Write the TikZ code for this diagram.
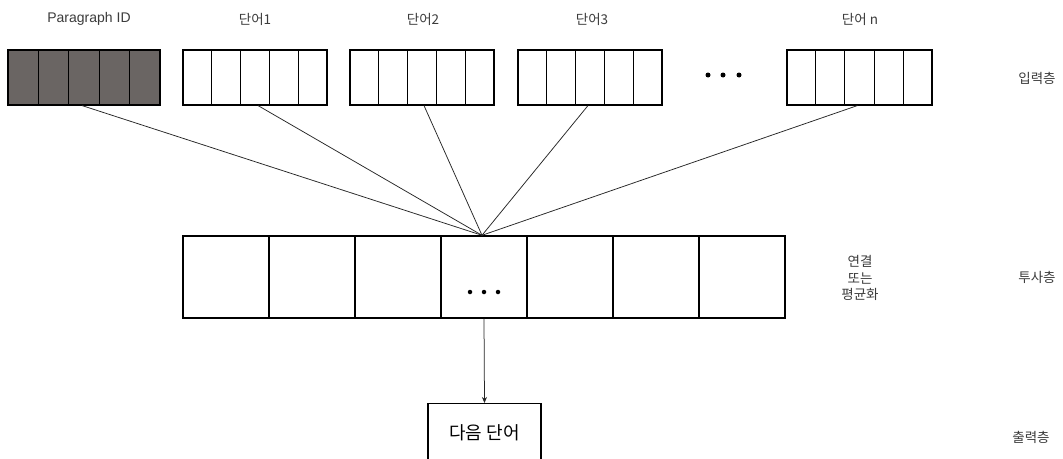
\documentclass[tikz,border=0pt]{standalone}
\usepackage{fontspec}
\setmainfont{Liberation Sans}
\newfontfamily\kr{Noto Sans CJK KR}
\usetikzlibrary{arrows.meta,calc}
\definecolor{idgray}{RGB}{106,101,99}
\definecolor{labgray}{RGB}{60,60,60}
\tikzset{
  vecbox/.style={draw=black, line width=1.1pt, minimum height=55pt, inner sep=0pt},
  cellbox/.style={draw=black, line width=1.4pt, minimum width=86pt, minimum height=82pt, inner sep=0pt},
  lab/.style={text=labgray, font=\kr\fontsize{13.5}{15}\selectfont, inner sep=0pt},
  conn/.style={draw=black!85, line width=0.75pt},
  dot/.style={circle, fill=black, inner sep=0pt, minimum size=5pt},
}
\begin{document}
\begin{tikzpicture}[x=1pt,y=-1pt]
\clip (0,0) rectangle (1063,458);
\fill[white] (0,0) rectangle (1063,458);
% input vectors
\node[vecbox, fill=idgray, minimum width=152pt] (p) at (84,77.5) {};
\node[vecbox, minimum width=144pt] (w1) at (255,77.5) {};
\node[vecbox, minimum width=144pt] (w2) at (422,77.5) {};
\node[vecbox, minimum width=144pt] (w3) at (590,77.5) {};
\node[vecbox, minimum width=145pt] (wn) at (859.5,77.5) {};
\foreach \b in {p,w1,w2,w3,wn}{
  \foreach \i in {1,2,3,4}{
    \draw[line width=1.1pt] ($(\b.north west)!\i/5!(\b.north east)$) -- ($(\b.south west)!\i/5!(\b.south east)$);
  }
}
% labels
\node[lab, font=\fontsize{14}{15}\selectfont] (lp) at (89,19) {Paragraph ID};
\node[lab] (l1) at (255,19) {단어1};
\node[lab] (l2) at (423,19) {단어2};
\node[lab] (l3) at (592,19) {단어3};
\node[lab] (ln) at (860,19) {단어 n};
\node[lab] (in) at (1037,78) {입력층};
% ellipsis dots top
\node[dot] (d1) at (708,75) {};
\node[dot] (d2) at (723,75) {};
\node[dot] (d3) at (739,75) {};
% projection cells
\foreach \i/\x in {1/226,2/312,3/398,4/484,5/570,6/656,7/742}{
  \node[cellbox] (c\i) at (\x,277) {};
}
\node[dot, minimum size=4.5pt] (m1) at (470,292) {};
\node[dot, minimum size=4.5pt] (m2) at (484,292) {};
\node[dot, minimum size=4.5pt] (m3) at (498,292) {};
\coordinate (hub) at ([xshift=-2pt]c4.north);
% connectors
\draw[conn] ([xshift=-2pt]p.south) -- (hub);
\draw[conn] ([xshift=3pt]w1.south) -- (hub);
\draw[conn] ([xshift=2pt]w2.south) -- (hub);
\draw[conn] ([xshift=-2pt]w3.south) -- (hub);
\draw[conn] ([xshift=-2pt]wn.south) -- (hub);
% side texts
\node[lab, align=center, font=\kr\fontsize{13.5}{16.5}\selectfont] (avg) at (860,278) {연결\\또는\\평균화};
\node[lab] (proj) at (1037,277) {투사층};
% output
\node[draw=black, line width=1.3pt, minimum width=113pt, minimum height=80pt, inner sep=0pt, anchor=north] (out) at (484.5,403) {};
\node[font=\kr\fontsize{18}{20}\selectfont, inner sep=0pt] (outt) at (484.5,433) {다음 단어};
\draw[conn, -{Stealth[length=6pt,width=5pt]}] (c4.south) -- (out.north);
\node[lab] (outl) at (1031,437) {출력층};
\end{tikzpicture}
\end{document}
